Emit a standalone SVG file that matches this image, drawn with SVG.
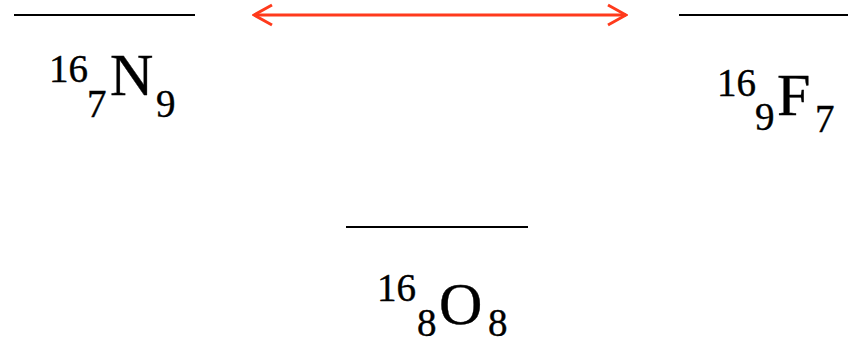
<svg xmlns="http://www.w3.org/2000/svg" width="848" height="343" viewBox="0 0 848 343">
<style>
.lvl{stroke:#000;stroke-width:2;fill:none}
text{font-family:'Liberation Serif','Times New Roman',serif;fill:#000;stroke:#000;stroke-width:0.4}
.m{font-size:60px}
.s{font-size:39px}
.arr{stroke:#FF3A1C;stroke-width:3;fill:none}
</style>
<defs>
<marker id="ah" viewBox="0 0 22 24" refX="20" refY="12" markerWidth="22" markerHeight="24" markerUnits="userSpaceOnUse" orient="auto-start-reverse">
<path d="M2,2 L20,12 L2,22" fill="none" stroke="#FF3A1C" stroke-width="3"/>
</marker>
</defs>
<rect width="848" height="343" fill="#fff"/>
<g id="N16">
<line class="lvl" x1="14" y1="15" x2="195" y2="15"/>
<text><tspan class="s" x="49" y="82">16</tspan><tspan class="s" x="87" y="117">7</tspan><tspan class="m" x="110" y="95">N</tspan><tspan class="s" x="156" y="117">9</tspan></text>
</g>
<g id="F16">
<line class="lvl" x1="679" y1="15" x2="848" y2="15"/>
<text><tspan class="s" x="717" y="96">16</tspan><tspan class="s" x="755" y="130">9</tspan><tspan class="m" x="777" y="115">F</tspan><tspan class="s" x="815" y="132">7</tspan></text>
</g>
<g id="O16">
<line class="lvl" x1="346" y1="227" x2="528" y2="227"/>
<text><tspan class="s" x="377" y="301">16</tspan><tspan class="s" x="417" y="336">8</tspan><tspan class="m" x="439" y="324">O</tspan><tspan class="s" x="488" y="336">8</tspan></text>
</g>
<g id="connectors">
<line class="arr" x1="254" y1="15" x2="626" y2="15" marker-start="url(#ah)" marker-end="url(#ah)"/>
</g>
</svg>
